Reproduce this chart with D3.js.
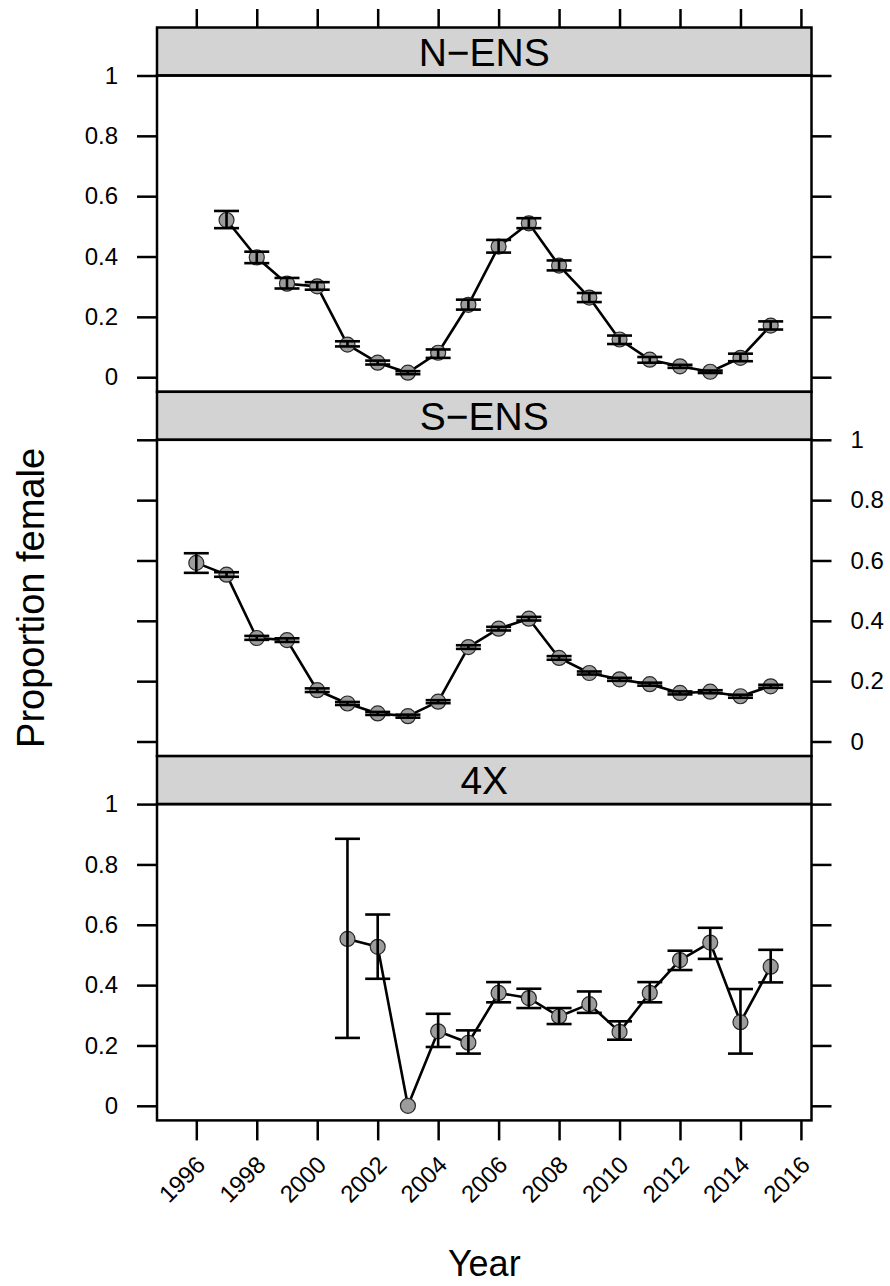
<!DOCTYPE html>
<html>
<head>
<meta charset="utf-8">
<script src="https://cdn.jsdelivr.net/npm/d3@7"></script>
<style>
  html, body { margin: 0; padding: 0; background: #ffffff; }
  svg { display: block; }
  text { font-family: "Liberation Sans", Arial, Helvetica, sans-serif; fill: #000; }
</style>
</head>
<body>
<svg id="chart" width="890" height="1286"></svg>
<script>
// ---- data: proportion female by year, with interval bounds, per area ----
const panelNames = ["N\u2212ENS", "S\u2212ENS", "4X"];

const nensYears = [1997, 1998, 1999, 2000, 2001, 2002, 2003, 2004, 2005, 2006,
                   2007, 2008, 2009, 2010, 2011, 2012, 2013, 2014, 2015];
const nensMean  = [0.521, 0.397, 0.310, 0.301, 0.108, 0.048, 0.015, 0.081, 0.240, 0.433,
                   0.510, 0.370, 0.264, 0.125, 0.058, 0.036, 0.018, 0.064, 0.171];
const nensLower = [0.494, 0.378, 0.294, 0.290, 0.102, 0.042, 0.010, 0.064, 0.224, 0.413,
                   0.494, 0.354, 0.249, 0.110, 0.048, 0.031, 0.014, 0.053, 0.158];
const nensUpper = [0.551, 0.416, 0.329, 0.315, 0.119, 0.055, 0.020, 0.092, 0.257, 0.455,
                   0.527, 0.387, 0.279, 0.138, 0.067, 0.041, 0.022, 0.078, 0.185];

const sensYears = [1996, 1997, 1998, 1999, 2000, 2001, 2002, 2003, 2004, 2005,
                   2006, 2007, 2008, 2009, 2010, 2011, 2012, 2013, 2014, 2015];
const sensMean  = [0.592, 0.553, 0.343, 0.336, 0.170, 0.126, 0.093, 0.084, 0.132, 0.313,
                   0.374, 0.407, 0.277, 0.227, 0.206, 0.190, 0.161, 0.165, 0.150, 0.183];
const sensLower = [0.559, 0.546, 0.337, 0.330, 0.164, 0.121, 0.088, 0.079, 0.127, 0.307,
                   0.368, 0.401, 0.271, 0.222, 0.201, 0.185, 0.156, 0.160, 0.145, 0.178];
const sensUpper = [0.624, 0.561, 0.350, 0.342, 0.176, 0.131, 0.098, 0.089, 0.137, 0.319,
                   0.380, 0.413, 0.283, 0.232, 0.211, 0.195, 0.166, 0.170, 0.155, 0.188];

const x4Years = [2001, 2002, 2003, 2004, 2005, 2006, 2007, 2008, 2009, 2010,
                 2011, 2012, 2013, 2014, 2015];
const x4Mean  = [0.553, 0.527, 0.000, 0.247, 0.209, 0.374, 0.357, 0.296, 0.337, 0.245,
                 0.374, 0.483, 0.541, 0.277, 0.461];
const x4Lower = [0.225, 0.421, 0.000, 0.195, 0.173, 0.343, 0.324, 0.271, 0.308, 0.219,
                 0.343, 0.450, 0.487, 0.173, 0.409];
const x4Upper = [0.885, 0.634, 0.000, 0.305, 0.250, 0.410, 0.388, 0.324, 0.379, 0.280,
                 0.410, 0.514, 0.590, 0.387, 0.517];

const xTickYears = [1996, 1998, 2000, 2002, 2004, 2006, 2008, 2010, 2012, 2014, 2016];
const yTickValues = [0, 0.2, 0.4, 0.6, 0.8, 1];

const xTitle = "Year";
const yTitle = "Proportion female";

// ---- assemble panels ----
function rows(years, mean, lower, upper) {
  return years.map((yr, i) => ({ year: yr, mean: mean[i], lower: lower[i], upper: upper[i] }));
}
const panels = [
  { name: panelNames[0], data: rows(nensYears, nensMean, nensLower, nensUpper), labelSide: "left" },
  { name: panelNames[1], data: rows(sensYears, sensMean, sensLower, sensUpper), labelSide: "right" },
  { name: panelNames[2], data: rows(x4Years, x4Mean, x4Lower, x4Upper), labelSide: "left" }
];

// ---- layout ----
const left = 157, right = 811.5;
const top0 = 27.5;
const stripH = 48;
const panelH = 316.3;
const step = stripH + panelH;
const tickLen = 20;
const lineW = 2.5;
const tickFont = "24px";

const svg = d3.select("#chart");

const x = d3.scaleLinear().domain([1994.70, 2016.35]).range([left, right]);

const line = d3.line().x(d => x(d.year));

panels.forEach((p, i) => {
  const stripTop = top0 + i * step;
  const pTop = stripTop + stripH;
  const pBot = pTop + panelH;
  const y = d3.scaleLinear().domain([-0.0484, 1]).range([pBot, pTop]);
  const g = svg.append("g").attr("class", "panel");

  // strip
  g.append("rect")
    .attr("x", left).attr("y", stripTop)
    .attr("width", right - left).attr("height", stripH)
    .attr("fill", "#d3d3d3").attr("stroke", "#000").attr("stroke-width", lineW);
  g.append("text")
    .attr("x", (left + right) / 2).attr("y", stripTop + stripH / 2)
    .attr("dy", "0.36em")
    .attr("text-anchor", "middle")
    .style("font-size", "39px")
    .text(p.name);

  // y axes on both sides
  const axL = d3.axisLeft(y).tickValues(yTickValues).tickSize(tickLen).tickPadding(19)
    .tickFormat(p.labelSide === "left" ? d3.format("") : () => "");
  const axR = d3.axisRight(y).tickValues(yTickValues).tickSize(tickLen).tickPadding(19)
    .tickFormat(p.labelSide === "right" ? d3.format("") : () => "");
  [[axL, left], [axR, right]].forEach(([ax, xp]) => {
    const a = g.append("g").attr("transform", `translate(${xp},0)`).call(ax);
    a.select(".domain").remove();
    a.selectAll(".tick line").attr("stroke", "#000").attr("stroke-width", lineW);
    a.selectAll(".tick text").style("font-size", tickFont).attr("font-family", null);
  });

  // top ticks above the first strip, bottom ticks with labels under the last panel
  if (i === 0) {
    const a = g.append("g").attr("transform", `translate(0,${stripTop})`)
      .call(d3.axisTop(x).tickValues(xTickYears).tickSize(tickLen - 1.5).tickFormat(() => ""));
    a.select(".domain").remove();
    a.selectAll(".tick line").attr("stroke", "#000").attr("stroke-width", lineW);
  }
  if (i === panels.length - 1) {
    const a = g.append("g").attr("transform", `translate(0,${pBot})`)
      .call(d3.axisBottom(x).tickValues(xTickYears).tickSize(tickLen).tickFormat(d3.format("d")));
    a.select(".domain").remove();
    a.selectAll(".tick line").attr("stroke", "#000").attr("stroke-width", lineW);
    a.selectAll(".tick text")
      .attr("font-family", null)
      .style("font-size", tickFont)
      .attr("text-anchor", "end")
      .attr("y", 0).attr("dy", "0.35em")
      .attr("transform", "translate(4,40) rotate(-45)");
  }

  // panel box
  g.append("rect")
    .attr("x", left).attr("y", pTop)
    .attr("width", right - left).attr("height", panelH)
    .attr("fill", "none").attr("stroke", "#000").attr("stroke-width", lineW);

  // connecting line
  g.append("path")
    .datum(p.data)
    .attr("d", line.y(d => y(d.mean)))
    .attr("fill", "none").attr("stroke", "#000").attr("stroke-width", 2.6)
    .attr("stroke-linejoin", "round");

  // points
  g.selectAll("circle.pt").data(p.data).join("circle")
    .attr("class", "pt")
    .attr("cx", d => x(d.year)).attr("cy", d => y(d.mean))
    .attr("r", 7.5)
    .attr("fill", "#9c9c9c").attr("stroke", "#2a2a2a").attr("stroke-width", 1.2);

  // interval bars with flat caps
  const capW = 12.5;
  const bars = g.selectAll("g.bar").data(p.data.filter(d => d.upper - d.lower > 0.001))
    .join("g").attr("class", "bar")
    .attr("stroke", "#000").attr("stroke-width", 2.6);
  bars.append("line")
    .attr("x1", d => x(d.year)).attr("x2", d => x(d.year))
    .attr("y1", d => y(d.lower)).attr("y2", d => y(d.upper));
  bars.append("line")
    .attr("x1", d => x(d.year) - capW).attr("x2", d => x(d.year) + capW)
    .attr("y1", d => y(d.upper)).attr("y2", d => y(d.upper));
  bars.append("line")
    .attr("x1", d => x(d.year) - capW).attr("x2", d => x(d.year) + capW)
    .attr("y1", d => y(d.lower)).attr("y2", d => y(d.lower));
});

// axis titles
svg.append("text")
  .attr("x", (left + right) / 2).attr("y", 1276)
  .attr("text-anchor", "middle")
  .style("font-size", "36px")
  .text(xTitle);

const panelsTop = top0 + stripH;
const panelsBot = top0 + 2 * step + stripH + panelH;
svg.append("text")
  .attr("transform", `translate(44,${(panelsTop + panelsBot) / 2}) rotate(-90)`)
  .attr("text-anchor", "middle")
  .style("font-size", "38px")
  .text(yTitle);
</script>
</body>
</html>
